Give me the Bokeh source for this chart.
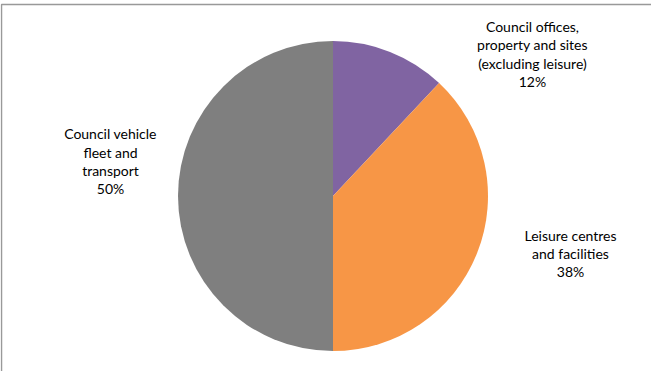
import numpy as np
from bokeh.plotting import figure
from bokeh.models import ColumnDataSource, Range1d
from bokeh.core.properties import value
from bokeh.embed import file_html
from bokeh.resources import INLINE

# Data
categories = ["Council offices,\nproperty and sites\n(excluding leisure)",
              "Leisure centres\nand facilities",
              "Council vehicle\nfleet and\ntransport"]
shares = [12, 38, 50]
colors = ["#8064A2", "#F79646", "#7F7F7F"]

W, H = 651, 371
p = figure(width=W, height=H, output_backend="svg", toolbar_location=None,
           x_range=Range1d(0, W), y_range=Range1d(0, H), min_border=0)
p.axis.visible = False
p.grid.visible = False
p.outline_line_color = None
p.background_fill_color = "white"

# chart frame (cut off on the right and bottom)
p.line(x=[W, 1, 1], y=[H - 4, H - 4, 0],
       line_color="#999999", line_width=1.5)

cx, cy, r = 332.5, 175.5, 155
vals = np.array(shares, dtype=float)
frac = vals / vals.sum()
cum = np.concatenate([[0], np.cumsum(frac)])
start = np.pi / 2 - cum[:-1] * 2 * np.pi
end = np.pi / 2 - cum[1:] * 2 * np.pi

src = ColumnDataSource(dict(start=start, end=end, color=colors))
p.wedge(x=cx, y=cy, radius=r, start_angle="start", end_angle="end",
        direction="clock", fill_color="color", line_color=None, source=src)

labels = [f"{c}\n{s}%" for c, s in zip(categories, shares)]
lx = [532, 570, 110]
ly = [317.5, 118, 210.3]
lsrc = ColumnDataSource(dict(x=lx, y=ly, text=labels))
p.text(x="x", y="y", text="text", source=lsrc, text_align="center",
       text_baseline="middle", text_font=value("Lato"), text_font_size="14px",
       text_color="#000000", text_line_height=1.07)

open("out.html", "w").write(file_html(p, INLINE))
